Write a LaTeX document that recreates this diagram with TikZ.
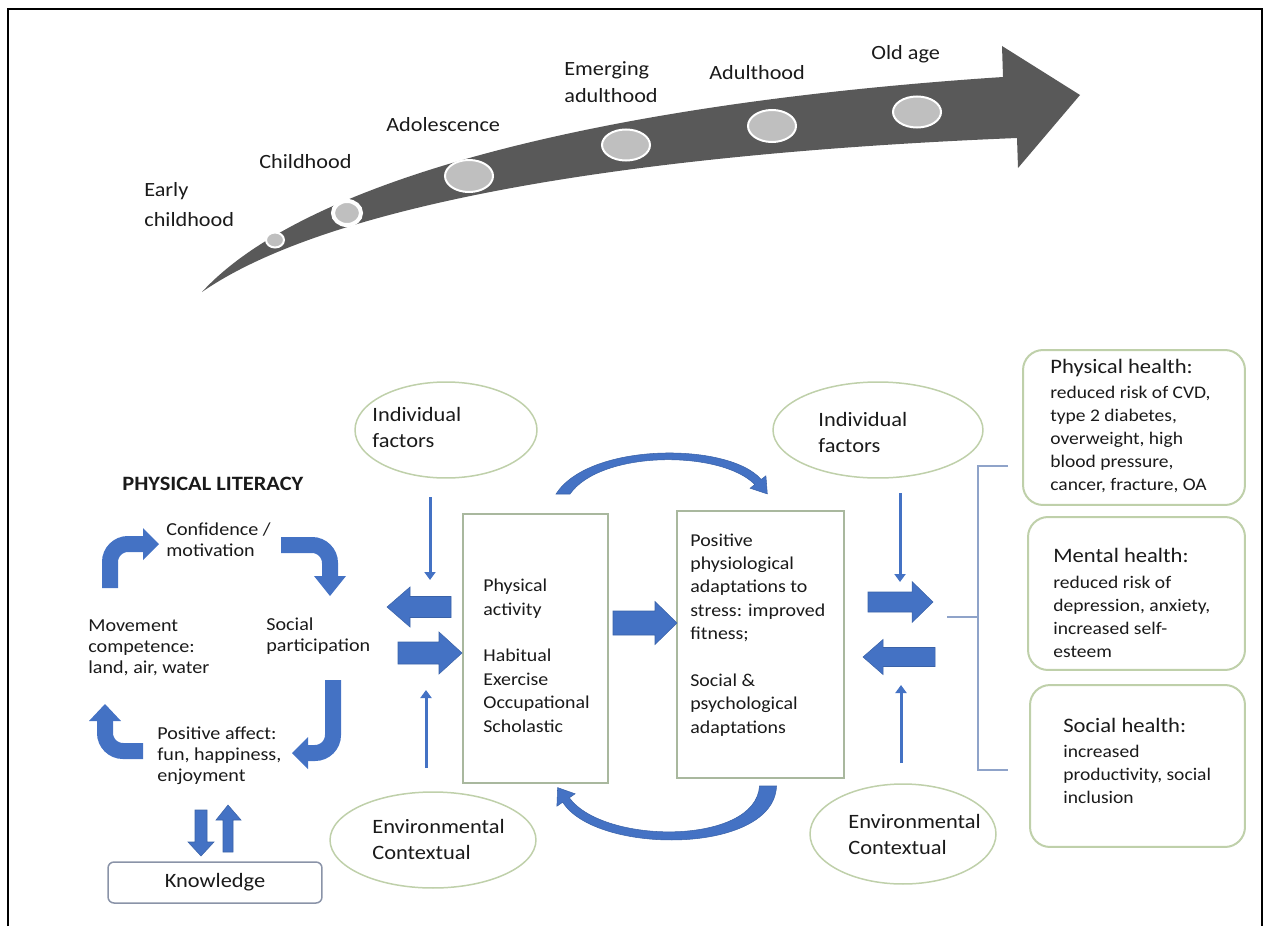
\documentclass[tikz,border=0pt]{standalone}
\usepackage{fontspec}
\setmainfont{Carlito}[FakeStretch=1.1]
\usepackage{tikz}
\usetikzlibrary{positioning,shapes,arrows,calc,shapes.geometric,arrows.meta}
\usepackage{xcolor}
\definecolor{arrowblue}{HTML}{4472C4}
\definecolor{edgeblue}{HTML}{3A62A8}
\definecolor{lifegray}{HTML}{595959}
\definecolor{dotgray}{HTML}{BFBFBF}
\definecolor{sage}{HTML}{BFD0AA}
\definecolor{boxline}{HTML}{A9B89E}
\definecolor{bracketblue}{HTML}{8FA3C9}
\definecolor{knowline}{HTML}{8A93A8}
\definecolor{inkgray}{HTML}{1A1A1A}

\begin{document}
\begin{tikzpicture}[
      x=0.02cm, y=-0.02cm, % one unit = one pixel of the original; text placed at its last baseline
      txt/.style={anchor=base west, inner sep=0pt, align=left, text=inkgray},
      stage/.style={txt, font=\fontsize{11.5}{16}\selectfont},
      cyc/.style={txt, font=\fontsize{10.4}{11.9}\selectfont},
      factortxt/.style={txt, font=\fontsize{11.6}{14.7}\selectfont},
      boxtxt/.style={txt, font=\fontsize{10.3}{13.3}\selectfont},
      healthhd/.style={txt, font=\fontsize{11.7}{13}\selectfont},
      healthbd/.style={txt, font=\fontsize{10.1}{13}\selectfont},
      factor/.style={ellipse, draw=sage, line width=0.03cm, minimum height=1.92cm},
      block/.style={rectangle, draw=boxline, line width=0.03cm},
      health/.style={rectangle, draw=sage, line width=0.04cm, rounded corners=0.4cm},
      dot/.style={fill=dotgray, draw=white, line width=0.04cm},
      blk/.style={fill=arrowblue, draw=edgeblue, line width=0.3pt},
      bentarr/.style={draw=arrowblue, line width=0.32cm, rounded corners=0.36cm},
      thinarr/.style={draw=arrowblue, line width=0.06cm, -{Triangle[length=0.16cm,width=0.22cm]}}
  ]
      \useasboundingbox (0,0) rectangle (1267,926);
      % Frame
      \draw[line width=0.05cm] (8,926) -- (8,9) -- (1262,9) -- (1262,926);

      % Life course arrow
      \fill[lifegray] (202,292) .. controls (300,185) and (580,105) .. (1003,77)
          -- (1002,46) -- (1080,95) -- (1018,168) -- (1017,138)
          .. controls (600,155) and (320,210) .. (202,292) -- cycle;
      \draw[dot] (275,240) ellipse [x radius=9, y radius=7.5];
      \draw[dot, line width=0.08cm] (347,213) ellipse [x radius=14, y radius=12];
      \draw[dot] (469,176) ellipse [x radius=24, y radius=16];
      \draw[dot] (626,145) ellipse [x radius=24, y radius=15.5];
      \draw[dot] (772,126) ellipse [x radius=24, y radius=16];
      \draw[dot] (917,112) ellipse [x radius=24, y radius=15.5];

      \node (early) [stage, font=\fontsize{11.5}{17}\selectfont] at (144,226) {Early\\childhood};
      \node (child) [stage] at (259,168) {Childhood};
      \node (adol) [stage] at (386,132) {Adolescence};
      \node (emerg) [stage, font=\fontsize{11.5}{15.5}\selectfont] at (564,103) {Emerging\\adulthood};
      \node (adult) [stage] at (709,80) {Adulthood};
      \node (old) [stage] at (871,60) {Old age};

      % Physical literacy cycle
      \node (pl) [txt, font=\fontsize{11.6}{13}\selectfont\bfseries] at (122,490) {PHYSICAL LITERACY};
      \node (conf) [cyc] at (166,556) {Confidence /\\motivation};
      \node (move) [cyc] at (88,673) {Movement\\competence:\\land, air, water};
      \node (social) [cyc] at (266,651) {Social\\participation};
      \node (affect) [cyc] at (157,781) {Positive affect:\\fun, happiness,\\enjoyment};
      \node (know) [rectangle, draw=knowline, line width=0.03cm, rounded corners=0.12cm,
          minimum width=4.28cm, minimum height=0.82cm, text=inkgray,
          font=\fontsize{11.6}{13}\selectfont] at (215,882.5) {Knowledge};

      \draw[bentarr] (110,588) -- (110,544) -- (144,544);
      \fill[arrowblue] (143,528) -- (159,544) -- (143,560) -- cycle;
      \draw[bentarr] (281,545) -- (330,545) -- (330,577);
      \fill[arrowblue] (314,576) -- (330,596) -- (346,576) -- cycle;
      \draw[bentarr] (333,680) -- (333,753) -- (307,753);
      \fill[arrowblue] (308,737) -- (292,753) -- (308,769) -- cycle;
      \draw[bentarr] (143,751) -- (105,751) -- (105,720);
      \fill[arrowblue] (89,721) -- (105,704) -- (121,721) -- cycle;

      \fill[blk] (195,810) -- (207,810) -- (207,842) -- (214,842) -- (201,856) -- (188,842) -- (195,842) -- cycle;
      \fill[blk] (223,852) -- (233,852) -- (233,820) -- (241,820) -- (228,805) -- (216,820) -- (223,820) -- cycle;

      % Factors
      \node (ifL) [factor, minimum width=3.64cm] at (446,430) {};
      \node (ifLtxt) [factortxt] at (372,447) {Individual\\factors};
      \node (envL) [factor, minimum width=4.12cm] at (433,840) {};
      \node (envLtxt) [factortxt] at (372,859) {Environmental\\Contextual};
      \node (ifR) [factor, minimum width=4.2cm] at (878,430) {};
      \node (ifRtxt) [factortxt] at (818,452) {Individual\\factors};
      \node (envR) [factor, minimum width=3.72cm, minimum height=2cm] at (903,834) {};
      \node (envRtxt) [factortxt] at (848,854) {Environmental\\Contextual};

      % Activity and adaptation boxes
      \node (pa) [block, minimum width=2.9cm, minimum height=5.38cm] at (535.5,648.5) {};
      \node (patxt) [boxtxt] at (483,732) {Physical\\activity\\[13.3pt]Habitual\\Exercise\\Occupational\\Scholastic};
      \node (adapt) [block, minimum width=3.34cm, minimum height=5.34cm] at (760.5,644.5) {};
      \node (adapttxt) [boxtxt] at (690,733) {Positive\\physiological\\adaptations to\\stress: improved\\fitness;\\[13.3pt]Social \&\\psychological\\adaptations};

      % Health outcomes
      \node (phys) [health, minimum width=4.44cm, minimum height=3.1cm] at (1134,427.5) {};
      \node (physhd) [healthhd] at (1050,373) {Physical health:};
      \node (physbd) [healthbd] at (1050,490) {reduced risk of CVD,\\type 2 diabetes,\\overweight, high\\blood pressure,\\cancer, fracture, OA};
      \node (ment) [health, minimum width=4.34cm, minimum height=3.06cm] at (1136.5,593.5) {};
      \node (menthd) [healthhd] at (1053,562) {Mental health:};
      \node (mentbd) [healthbd] at (1053,657) {reduced risk of\\depression, anxiety,\\increased self-\\esteem};
      \node (soc) [health, minimum width=4.3cm, minimum height=3.24cm] at (1137.5,766) {};
      \node (sochd) [healthhd] at (1063,732) {Social health:};
      \node (socbd) [healthbd] at (1063,803) {increased\\productivity, social\\inclusion};

      % Bracket
      \draw[bracketblue, line width=0.03cm] (947,617) -- (978,617) (1008,466) -- (978,466) -- (978,770) -- (1008,770);

      % Thin arrows from the factors
      \coordinate (ifL-a) at (430,497);   \coordinate (ifL-b) at (430,580);
      \coordinate (envL-a) at (426,768);  \coordinate (envL-b) at (426,690);
      \coordinate (ifR-a) at (900,493);   \coordinate (ifR-b) at (900,582);
      \coordinate (envR-a) at (901,763);  \coordinate (envR-b) at (901,685);
      \draw[thinarr] (ifL-a) -- (ifL-b);
      \draw[thinarr] (envL-a) -- (envL-b);
      \draw[thinarr] (ifR-a) -- (ifR-b);
      \draw[thinarr] (envR-a) -- (envR-b);

      % Block arrows
      \fill[blk] (451,596.5) -- (410,596.5) -- (410,587) -- (387,607) -- (410,627) -- (410,617.5) -- (451,617.5) -- cycle;
      \fill[blk] (398,642) -- (439,642) -- (439,632) -- (462,653) -- (439,674) -- (439,664) -- (398,664) -- cycle;
      \fill[blk] (613,611) -- (655,611) -- (655,601.5) -- (677,623) -- (655,644.5) -- (655,635) -- (613,635) -- cycle;
      \fill[blk] (868,592) -- (912,592) -- (912,581.5) -- (933,602) -- (912,622.5) -- (912,612) -- (868,612) -- cycle;
      \fill[blk] (935,647.5) -- (883,647.5) -- (883,639.5) -- (863,657) -- (883,674.5) -- (883,666.5) -- (935,666.5) -- cycle;

      % Curved arrows between the boxes
      \fill[blk] (556,494) .. controls (589,442) and (729,442) .. (761.2,479.5)
          -- (765.9,475.8) -- (767.3,493.9) -- (750.1,488.2) -- (754.8,484.5)
          .. controls (721,450) and (601,450) .. (570,494) -- cycle;
      \fill[blk] (776.5,786) .. controls (774,855) and (596,855) .. (562.7,802.2)
          -- (556.9,806.2) -- (557.6,787.6) -- (575.1,793.8) -- (569.3,797.8)
          .. controls (604,845) and (756,845) .. (759.5,786) -- cycle;
  \end{tikzpicture}
\end{document}
